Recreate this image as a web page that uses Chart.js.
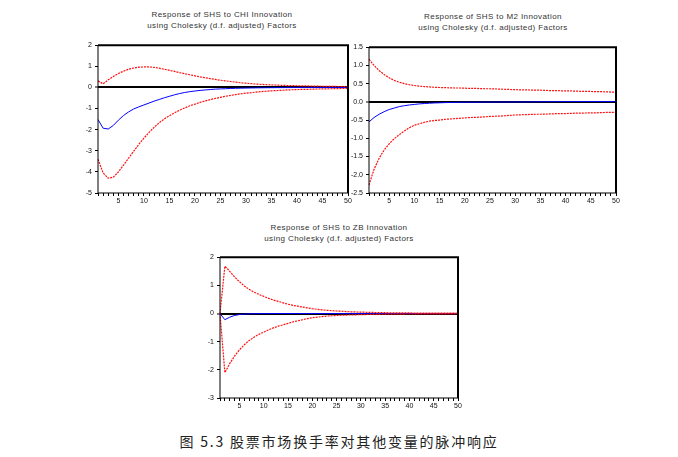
<!DOCTYPE html>
<html>
<head>
<meta charset="utf-8">
<script src="https://cdn.jsdelivr.net/npm/chart.js@4/dist/chart.umd.min.js"></script>
<style>
  body { margin: 0; background: #fff; width: 678px; height: 457px; position: relative; overflow: hidden; }
  .box { position: absolute; }
  .title { position: absolute; width: 220px; text-align: center; font: 8px "Liberation Sans", Arial, sans-serif; line-height: 11px; color: #333; letter-spacing: 0.4px; }
  .caption { position: absolute; left: 0; width: 678px; top: 432px; text-align: center; font: 14px "Noto Sans CJK SC", sans-serif; line-height: 18px; letter-spacing: 1.8px; color: #222; }
</style>
</head>
<body>
<div class="title" style="left:112px;top:9px">Response of SHS to CHI Innovation<br>using Cholesky (d.f. adjusted) Factors</div>
<div class="title" style="left:383px;top:11px">Response of SHS to M2 Innovation<br>using Cholesky (d.f. adjusted) Factors</div>
<div class="title" style="left:229px;top:222px">Response of SHS to ZB Innovation<br>using Cholesky (d.f. adjusted) Factors</div>

<div class="box" style="left:68px;top:38px;width:285px;height:171px"><canvas id="chartChi"></canvas></div>
<div class="box" style="left:339px;top:40px;width:282px;height:169px"><canvas id="chartM2"></canvas></div>
<div class="box" style="left:190px;top:250px;width:273px;height:164px"><canvas id="chartZb"></canvas></div>

<div class="caption">图 5.3 股票市场换手率对其他变量的脉冲响应</div>

<script>
const periods = [1, 2, 3, 4, 5, 6, 7, 8, 9, 10, 11, 12, 13, 14, 15, 16, 17, 18, 19, 20,
    21, 22, 23, 24, 25, 26, 27, 28, 29, 30, 31, 32, 33, 34, 35, 36, 37, 38, 39, 40,
    41, 42, 43, 44, 45, 46, 47, 48, 49, 50];

// SHS to CHI
const chiResponse = [-1.52, -1.93, -1.97, -1.80, -1.55, -1.33, -1.16, -1.02, -0.92, -0.83,
    -0.74, -0.65, -0.57, -0.49, -0.42, -0.35, -0.29, -0.24, -0.20, -0.17,
    -0.14, -0.12, -0.10, -0.08, -0.07, -0.06, -0.05, -0.04, -0.035, -0.03,
    -0.025, -0.02, -0.018, -0.015, -0.012, -0.01, -0.009, -0.008, -0.007, -0.006,
    -0.005, -0.005, -0.004, -0.004, -0.003, -0.003, -0.003, -0.002, -0.002, -0.002];
const chiUpper = [0.31, 0.17, 0.36, 0.52, 0.66, 0.77, 0.86, 0.92, 0.96, 0.97,
    0.97, 0.95, 0.91, 0.86, 0.81, 0.76, 0.70, 0.65, 0.60, 0.55,
    0.50, 0.46, 0.42, 0.38, 0.34, 0.31, 0.28, 0.25, 0.22, 0.20,
    0.18, 0.16, 0.145, 0.13, 0.12, 0.11, 0.10, 0.09, 0.085, 0.08,
    0.075, 0.07, 0.065, 0.06, 0.055, 0.05, 0.048, 0.045, 0.042, 0.04];
const chiLower = [-3.40, -4.05, -4.30, -4.25, -4.00, -3.68, -3.35, -3.02, -2.70, -2.40,
    -2.13, -1.89, -1.67, -1.49, -1.34, -1.20, -1.08, -0.97, -0.87, -0.79,
    -0.71, -0.64, -0.58, -0.52, -0.47, -0.42, -0.38, -0.34, -0.30, -0.27,
    -0.25, -0.22, -0.20, -0.18, -0.16, -0.15, -0.135, -0.12, -0.11, -0.10,
    -0.095, -0.09, -0.08, -0.075, -0.07, -0.065, -0.06, -0.055, -0.05, -0.05];

// SHS to M2
const m2Response = [-0.55, -0.43, -0.34, -0.27, -0.21, -0.17, -0.13, -0.105, -0.085, -0.07,
    -0.055, -0.045, -0.037, -0.03, -0.025, -0.02, -0.017, -0.014, -0.012, -0.01,
    -0.009, -0.008, -0.007, -0.006, -0.005, -0.005, -0.004, -0.004, -0.003, -0.003,
    -0.002, -0.001, 0.0, 0.002, 0.004, 0.005, 0.006, 0.007, 0.008, 0.008,
    0.008, 0.008, 0.008, 0.008, 0.008, 0.008, 0.008, 0.008, 0.008, 0.008];
const m2Upper = [1.17, 1.00, 0.86, 0.75, 0.66, 0.59, 0.54, 0.50, 0.47, 0.45,
    0.43, 0.42, 0.41, 0.40, 0.395, 0.39, 0.385, 0.38, 0.38, 0.375,
    0.37, 0.37, 0.365, 0.36, 0.36, 0.355, 0.35, 0.345, 0.34, 0.335,
    0.33, 0.33, 0.325, 0.32, 0.32, 0.315, 0.31, 0.31, 0.305, 0.30,
    0.30, 0.295, 0.29, 0.29, 0.285, 0.28, 0.28, 0.275, 0.27, 0.27];
const m2Lower = [-2.28, -1.85, -1.55, -1.32, -1.15, -1.01, -0.90, -0.80, -0.71, -0.64,
    -0.60, -0.56, -0.53, -0.51, -0.50, -0.48, -0.47, -0.46, -0.45, -0.44,
    -0.43, -0.425, -0.42, -0.41, -0.40, -0.395, -0.39, -0.38, -0.37, -0.36,
    -0.355, -0.35, -0.345, -0.34, -0.34, -0.335, -0.33, -0.325, -0.32, -0.32,
    -0.315, -0.31, -0.31, -0.305, -0.30, -0.30, -0.295, -0.29, -0.29, -0.285];

// SHS to ZB
const zbResponse = [0.0, -0.22, -0.13, -0.07, -0.035, -0.02, -0.01, -0.006, -0.004, -0.002,
    0, 0, 0, 0, 0, 0, 0, 0, 0, 0,
    0, 0, 0, 0, 0, 0, 0, 0, 0, 0,
    0, 0, 0, 0, 0, 0, 0, 0, 0, 0,
    0, 0, 0, 0, 0, 0, 0, 0, 0, 0];
const zbUpper = [0.0, 1.68, 1.50, 1.30, 1.13, 0.98, 0.86, 0.76, 0.68, 0.61,
    0.54, 0.48, 0.43, 0.38, 0.33, 0.29, 0.26, 0.23, 0.20, 0.17,
    0.15, 0.13, 0.115, 0.10, 0.09, 0.08, 0.07, 0.06, 0.055, 0.05,
    0.045, 0.04, 0.036, 0.033, 0.03, 0.027, 0.025, 0.023, 0.021, 0.02,
    0.018, 0.017, 0.016, 0.015, 0.014, 0.013, 0.012, 0.011, 0.011, 0.01];
const zbLower = [0.0, -2.10, -1.78, -1.51, -1.29, -1.11, -0.96, -0.84, -0.74, -0.66,
    -0.58, -0.51, -0.45, -0.40, -0.35, -0.30, -0.26, -0.22, -0.18, -0.15,
    -0.13, -0.11, -0.09, -0.08, -0.07, -0.06, -0.055, -0.05, -0.045, -0.04,
    -0.036, -0.033, -0.03, -0.027, -0.025, -0.023, -0.021, -0.02, -0.018, -0.017,
    -0.016, -0.015, -0.014, -0.013, -0.012, -0.011, -0.011, -0.01, -0.01, -0.01];

// plot frame: thin left/bottom, heavier top/right
const framePlugin = {
    id: 'frame',
    afterDraw(chart) {
        const a = chart.chartArea;
        const ctx = chart.ctx;
        ctx.save();
        ctx.strokeStyle = '#000';
        ctx.lineWidth = 1;
        ctx.beginPath();
        ctx.moveTo(a.left, a.top);
        ctx.lineTo(a.left, a.bottom);
        ctx.lineTo(a.right, a.bottom);
        ctx.stroke();
        ctx.lineWidth = 2;
        ctx.beginPath();
        ctx.moveTo(a.left, a.top);
        ctx.lineTo(a.right, a.top);
        ctx.lineTo(a.right, a.bottom);
        ctx.stroke();
        ctx.restore();
    }
};

function makeChart(id, response, upper, lower, yMin, yMax, yStep, decimals) {
    const band = {
        borderColor: '#ff1010',
        borderWidth: 1.2,
        borderDash: [2, 1],
        pointRadius: 0,
        tension: 0,
        fill: false
    };
    const data = {
        labels: periods,
        datasets: [
            Object.assign({ label: 'upper', data: upper }, band),
            Object.assign({ label: 'lower', data: lower }, band),
            { label: 'response', data: response, borderColor: '#0000ff', borderWidth: 1, pointRadius: 0, tension: 0, fill: false }
        ]
    };
    const config = {
        type: 'line',
        data: data,
        options: {
            responsive: true,
            maintainAspectRatio: false,
            animation: false,
            layout: { padding: { top: 5, right: 5, bottom: 0, left: 0 } },
            plugins: { legend: { display: false }, tooltip: { enabled: false } },
            scales: {
                x: {
                    offset: false,
                    border: { display: false },
                    grid: { drawOnChartArea: false, tickLength: 3, tickColor: '#000', tickWidth: 1 },
                    ticks: {
                        autoSkip: false,
                        maxRotation: 0,
                        padding: 1,
                        color: '#111',
                        font: { family: 'Liberation Sans', size: 7 },
                        callback: (v, i) => periods[i] % 5 === 0 ? String(periods[i]) : ''
                    },
                    afterFit: (s) => { s.height = 16; }
                },
                y: {
                    min: yMin,
                    max: yMax,
                    border: { display: false },
                    grid: {
                        color: (c) => c.tick && c.tick.value === 0 ? '#000' : 'rgba(0,0,0,0)',
                        lineWidth: (c) => c.tick && c.tick.value === 0 ? 2 : 1,
                        tickColor: '#000',
                        tickWidth: 1,
                        tickLength: 3
                    },
                    ticks: {
                        stepSize: yStep,
                        padding: 3,
                        color: '#111',
                        font: { family: 'Liberation Sans', size: 7 },
                        callback: (v) => v.toFixed(decimals)
                    },
                    afterFit: (s) => { s.width = 30; }
                }
            }
        },
        plugins: [framePlugin]
    };
    return new Chart(document.getElementById(id), config);
}

makeChart('chartChi', chiResponse, chiUpper, chiLower, -5, 2, 1, 0);
makeChart('chartM2', m2Response, m2Upper, m2Lower, -2.5, 1.5, 0.5, 1);
makeChart('chartZb', zbResponse, zbUpper, zbLower, -3, 2, 1, 0);
</script>
</body>
</html>
